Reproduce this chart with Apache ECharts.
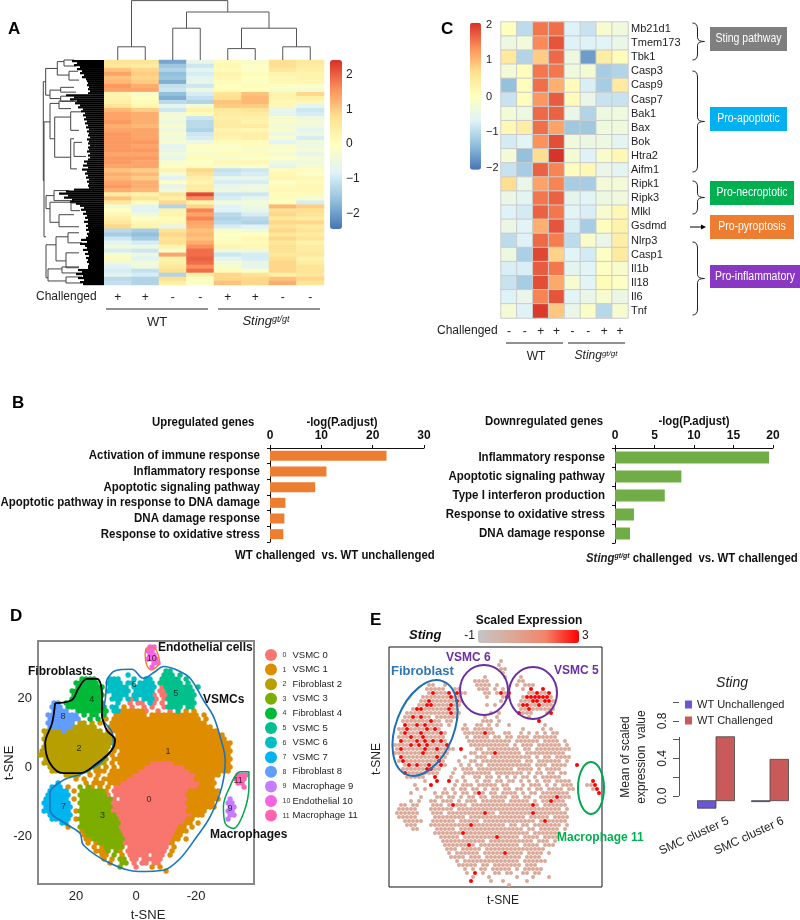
<!DOCTYPE html>
<html><head><meta charset="utf-8">
<style>html,body{margin:0;padding:0;background:#fff}#c{width:800px;height:920px}</style>
<script src="https://cdn.jsdelivr.net/npm/echarts@6/dist/echarts.min.js"></script>
</head><body><div id="c"></div>
<script>
// ---------- DATA ----------
const aSigns=['+','+','-','-','+','+','-','-'];
const cSigns=['-','-','+','+','-','-','+','+'];
const heatA=[
[.7,.7,-1.9,-.6,.1,-.2,.8,.6],[.6,.5,-1.5,-1,.2,-.1,.8,.5],[1.1,.9,-1.3,-.7,.1,-.1,.6,.4],[1.4,1,-1.6,-.9,.3,.1,.3,.3],
[1.1,.9,-1.5,-.7,.2,0,.2,.3],[1.2,1,-1.8,-.6,.1,-.1,.2,.2],[1.5,1.3,-1.1,-1,0,.1,0,-.1],[1.4,1.4,-1,-.5,.1,0,-.2,-.3],
[.2,-.2,-1.6,-.9,.7,1.1,.3,.9],[.3,0,-1.8,-1.1,.8,1.2,.3,.4],[.4,.1,-1.2,-1.3,1.1,1.2,.2,.2],[.7,.2,-.7,-.3,1,1,.2,-.7],
[1.2,1,-1,.3,.6,.7,-.6,-1],[1.4,1.3,-.4,.1,.5,.5,-.7,-.9],[1.4,1.3,-.3,-1,.4,.4,-.2,-.5],[1.5,1.3,-.5,-1.2,.5,.3,-.2,-.3],
[1.3,1.2,-.2,-1.2,.5,.5,-.3,-.4],[1.4,1.4,-.5,-1.3,.3,.2,-.2,-.7],[1.5,1.4,-.2,-1,.4,.4,-.5,-.5],[1.5,1.4,-.4,-.9,.3,.4,-.2,-.9],
[1.5,1.5,-.2,-.5,.1,.1,-.8,-.4],[1.5,1.4,-.7,-.1,-.1,.1,-.2,-.5],[1.5,1.5,-.6,-.1,-.1,-.2,-.1,-.3],[1.4,1.4,-.4,-.2,.1,.1,-.3,-.6],
[1.5,1.5,-.6,.1,-.2,-.1,-.1,-.3],[1.5,1.4,-.2,-.1,.2,.2,-.4,-.4],[1.4,1.4,-.1,.1,-.2,-.1,-.7,-.3],[1.1,1,.3,.9,-1.1,-1,.1,.1],
[1.3,1.2,-.3,.7,-1,-.9,.2,-.1],[1.2,1,-.8,.4,-.6,-.6,.3,.2],[1.4,1.3,0,.3,-.9,-.9,-.1,.1],[1.5,1.3,-.7,.5,-.6,-.4,.1,.2],
[1.3,1.2,-.4,.5,-.5,-.5,.2,.2],[.5,.3,.7,2.2,-1,-1,.1,.1],[1.1,.7,.4,1.6,-.9,-.7,.1,-.2],[.6,.1,.9,.3,-.3,-.3,0,-.9],
[-.3,-.7,-1.3,.9,-.8,-.5,1.2,1],[0,-.8,.3,1.7,-.8,-.6,.8,.8],[.2,-.4,.3,1.4,-1.2,-.9,.9,.7],[.4,-.1,.1,1.7,-1.3,-1.2,.6,.5],
[.6,.2,.2,1.4,-1.2,-1.3,.9,.9],[.9,.3,-.6,1.3,-.9,-.8,.7,.5],[-1.2,-1.4,.7,1.1,-.2,-.4,.9,.7],[-1.4,-1.6,.9,1.2,0,0,.6,.5],
[-1,-1.4,.7,1.1,-.1,.2,.9,.7],[-.7,-.9,.8,1.3,.1,.1,.6,.3],[-.4,-.5,.3,1.6,.3,.2,.8,.5],[-.9,-1,-.2,1.9,-.5,-.4,.7,.5],
[-.2,-.5,1.4,1.9,-1,-.9,.6,.6],[.1,-.8,.3,2,-.7,-.9,.8,.3],[-.5,-.3,.4,1.9,-.3,-.6,.9,.5],[-.8,-.5,.6,1.6,-.2,-.7,.9,.7],
[-.9,-1.1,.8,1.9,.1,-.1,.9,.7],[-.7,-.9,-1.3,.4,.9,.7,.4,.6],[-1.2,-1.3,.8,0,.9,.9,1.1,.9],[-1.1,-1.3,.4,-.1,1.1,.9,1.3,.7]];
// column dendrogram: xLeft,hLeft,xRight,hRight,h (column units, relative height)
const colTree=[[.5,0,1.5,0,.22],[2.5,0,3.5,0,.53],[4.5,0,5.5,0,.19],[6.5,0,7.5,0,.22],[5,.19,7,.22,.53],[3,.53,6,.53,.8],[1,.22,4.5,.8,.99]];
// row dendrogram: hV,yTop,hTop,yBot,hBot
const rowTree=[[60.7,5.4,58.3,30,60],[58.3,2.1,46.7,8.75,54],[46.7,.4,40,3.75,35],[40,0,30,1.5,28],[35,2.8,26,5,25],[54,7.5,43.3,9.6,43.3],[43.3,6.8,30,8,28],[43.3,9,30,10.3,26],
[60,15.4,54,44,58],[54,10.8,45,19.6,49.3],[45,10.2,30,12.1,33],[49.3,14.2,33.3,24.2,33.3],[33.3,12.9,23,17.5,25],[33.3,19.6,30,27.1,27],[30,20.5,22,24,18],
[58,33.75,50,37,54],[50,32.5,35,35,30],[54,35.4,33,40.4,45],[33,35.6,25,37.5,24],[45,38.5,30,41.5,25],
[58,46,48,54.2,56],[48,44,36,50,38],[36,43,25,45.5,22],[38,48,25,51.7,25],[56,52,42,55,38],[42,51.5,25,53,22],[38,54,22,55.5,22]];
const rowFringe=[32,27,30,24,27,22,24,20,22,18,17,16,17,15,16,14,16,38,30,34,27,29,24,26,21,23,19,21,18,20,17,19,16,18,15,17,15,16,14,17,15,16,14,16,15,17,14,16,14,16,20,17,21,16,22,17,19,16,18,15,17,15,16,15,30,38,45,36,40,32,34,28,24,20,23,18,21,17,19,16,20,16,18,16,18,15,17,16,18,23,17,24,19,17,21,16,19,15,18,16,17,15,16,16,26,22,28,21,26,20,24,21];
const genes=['Mb21d1','Tmem173','Tbk1','Casp3','Casp9','Casp7','Bak1','Bax','Bok','Htra2','Aifm1','Ripk1','Ripk3','Mlkl','Gsdmd','Nlrp3','Casp1','Il1b','Il18','Il6','Tnf'];
const heatC=[
[0,-1,1.55,1.6,-.7,-.9,-.2,-.35],[-.4,-.3,1.4,1.8,-.7,-.7,-.65,-.5],[.5,-1.1,.85,1.65,-.4,-1.7,.4,.1],[-.3,.05,1.55,1.55,-.35,-.25,-1.2,-1.1],
[-1.35,.05,1.6,1.1,.1,-.75,-1.2,.45],[-.9,.05,1.3,1.75,.1,-.5,-.9,-.9],[-.3,-.4,1.65,1.7,-.5,-1.1,-.4,-.35],[.15,.4,1.6,1.2,-1.25,-1.25,-.35,-.35],
[-.8,-.65,1.35,1.85,-.35,-.45,-.4,-.6],[-.3,-1.35,.7,2.05,-.25,-.7,-.15,.15],[-.9,-1.2,1.7,1.45,.05,.15,-.5,-.6],[.7,-.5,1.2,1.45,-1.2,-1.2,-.3,-.3],
[-.45,-.6,1.55,1.7,-.55,-.65,-.4,-.35],[-.7,-.8,1.7,1.55,-.65,-.75,-.2,.15],[-.45,-.65,1.1,1.8,-.75,-1.2,.05,.3],[-1,-.7,1.65,1.5,-1,-.15,-.5,.35],
[-.4,-1.15,1.9,.8,-.65,-.8,-.05,.45],[-.75,-.75,1.75,1.55,-.6,-.65,-.05,-.15],[-.9,-1.2,1.85,1.15,-.2,-.65,.1,-.05],[-.7,-.5,1.45,1.8,-.65,-.5,-.2,-.45],[-.25,-.7,2,.9,-.5,-.1,-1.05,-.2]];
const upNames=['Activation of immune response','Inflammatory response','Apoptotic signaling pathway','Apoptotic pathway in response to DNA damage','DNA damage response','Response to oxidative stress'];
const upVals=[22.7,11,8.8,3,2.8,2.6];
const downNames=['Inflammatory response','Apoptotic signaling pathway','Type I interferon production','Response to oxidative stress','DNA damage response'];
const downVals=[19.5,8.4,6.3,2.4,1.9];
const clusterNames=['VSMC 0','VSMC 1','Fibroblast 2','VSMC 3','Fibroblast 4','VSMC 5','VSMC 6','VSMC 7','Fibroblast 8','Macrophage 9','Endothelial 10','Macrophage 11'];
const clusterColors=['#F8766D','#DE8C00','#B79F00','#7CAE00','#00BA38','#00C08B','#00BFC4','#00B4F0','#619CFF','#C77CFF','#F564E3','#FF64B0'];
// cluster map: one row per 1.16 t-SNE y units, one char per 1.33 t-SNE x units
const clusterMap=[
"",
".......... .......... .......aa",
".......... .......... .......aa",
".......... .......... .......aa",
".......... .......... .......aaa",
".......... .......... ........aa",
".......... .......... ........a.",
".......... .......... .......... .55",
".......... .......... ..6....... .555.5",
".......... 4444...666 ...6..66.. 55555.5",
".........4 44444..666 6.66.6666. 555555.5",
".........4 444444.666 66.666666. 05555555.5",
"........44 444444.666 666.66666. 005555555",
"........44 444444..66 66.666660. 005555555",
"........44 444444..66 6.606.6660 .05555555.",
"...88.4444 444444...6 ..0.00.60. 0.5555555",
"...888.444 4444444.66 .1.0..0.0. .05555.55",
"...8888..4 4444444.66 1111110..0 ..0.5.1.1.",
"..88888888 .4.44.4..1 1111111.11 1111111111 .1",
"..88888888 ..4.4.1.11 1111111111 1111111111 .1.",
"..8888888. 22.2.1..11 1111111111 1111111111 11",
"..88888822 2222...111 1111111111 1111111111 111.",
".222228222 222222.111 1111111111 1111111111 11111",
".222222222 22222222.1 1111111111 1111111111 111111",
".222222222 2222222221 1111111111 1111111111 1111111",
".222222222 22222222.1 1111111111 1111111111 11111111",
".222222222 22222222.1 1111111111 1111111111 11111111",
"2222222222 2222222.1. 1111111111 1111111111 11111111",
"2222222222 2222222.1. 1111111111 1111111111 11111111",
".222222222 2222222.11 1111111111 1111111111 11111111",
".222222222 2222222.1. 1111111100 0000111111 11111111",
"..22222222 22222.1.1. 1111110000 0000001111 11111111",
"...2222222 222.111.11 1111100000 0000000011 11111111",
"......2222 ..1.1..111 1110000000 0000000001 11111....b bb",
".........1 .1..1.1111 1100000000 0000000001 1111.....b bb",
"....7..... .1.111.111 0000000000 0000000000 1111.....b b",
"...777.1.. 3.31.1.1.0 0000000000 0000000000 1111...... .b",
"..77777.1. 3333331.00 0000000000 0000000111 11111",
"..777777.. 33333330.0 0000000000 0000000111 11111",
".777777.1. 333333330. 0000000000 0000000111 11111..9..",
".7777777.. 3333333300 0000000000 0000000111 1111...99.",
".7777777.. 3333333300 0000000000 0000000111 1111...99.",
".7777777.1 3333333300 0000000000 0000000111 11.....99.",
"..777777.. 3333333330 0000000000 0000000011 1......99.",
"...77777.1 3333333333 0000000000 000000011. .......9..",
".....77... 3333333333 0000000000 00000011.1",
".......1.. 3333333333 0000000000 0000011.1",
".......... 1333333333 0000000000 0000111.",
".......... .133333333 3000000000 000011.",
".......... .113333333 3000000000 00011.1",
".......... ..1.133333 3000000000 0001.",
".......... ...1.13333 3.00000000 00.1",
".......... ....1113.3 1.00000000 00.1",
".......... .....11.3. 1.00000.00 0.1",
".......... ......1.1. 33.00.0000 0.",
".......... .......1.. 33.0.00.00",
".......... .......... 3...0...1. 1",
".......... .......... .......... .1"];
const mapX0=32,mapDX=1.333,mapY0=35.94,mapDY=1.159;
const clusterLabels=[[-4.3,-9.4,'0'],[-10.6,4.5,'1'],[19,5.4,'2'],[11.2,-14.2,'3'],[14.8,19.6,'4'],[-13.2,21.4,'5'],[.6,23.8,'6'],[24.2,-11.5,'7'],[24.4,14.6,'8'],[-31.3,-12,'9'],[-5.2,31.4,'10'],[-34,-3.8,'11']];
const outlineVSMC=[[9.8,25.2],[7,27.9],[1.4,28.3],[-2.4,25.7],[-6.3,27.6],[-9.1,29.1],[-13.6,28.1],[-18,25.7],[-22.4,19.4],[-25.8,14.6],[-28,8.8],[-29.7,2],[-28.6,-5.7],[-24.7,-14.4],[-20.2,-20.2],[-14.7,-26.5],[-9.1,-29.9],[-.8,-30.3],[8.7,-27.9],[17.6,-22.6],[18.7,-19.2],[23.7,-16.3],[28.7,-12.5],[28.7,-7.6],[24.2,-3.8],[17.6,-1.8],[10.9,2],[7.6,6.9],[8.1,10.2],[11.4,14.6],[10.3,19.4],[9.8,25.2]];
const outlineFibro=[[27,18.5],[21.4,19.4],[19.2,22.8],[16.4,25.5],[13,25.5],[11.4,21.3],[11.4,15.5],[9.8,10.7],[7,7.8],[8.1,4.9],[13,1.1],[18.7,-1.8],[24.2,-1.8],[28.7,1.1],[30.3,6.9],[28,12.7],[27,18.5]];
const outlineEndo=[[-3.3,34.4],[-5.6,34.7],[-7.8,30.5],[-5.2,28.1],[-3.6,29.5],[-3,32.5],[-3.3,34.4]];
const outlineMacro=[[-31.3,-5.7],[-34.7,-1.4],[-37.6,-1.4],[-37.6,-5.7],[-35.8,-13.4],[-32.4,-17.8],[-29.7,-16.3],[-29.1,-11.5],[-31.3,-5.7]];
// expression map: o = background expression, x = high expression
const exprMap=[
"","","",
".......... .......... .......o",
".......... .......... .......o",
".......... .......... .......oo",
".......... .......... ........o.",
".......... .......... ...o....o. ..o.",
".......... .......... .oooo..... ..oo",
".........o o..o...... .oooo.o... .o.ooo",
".........o oooo..oo.. ..ooo.o.o. ...o.x..x.",
".........o xooox.xoo. ...oo.oxox ....ooxoox..",
"........oo oooooxoo.. ....o...ox ...oxxxxxxo",
".......oox ooooooxo.. .......o.. ..oooxxoxxo",
".......oox xooooxoo.. ....o.o... ..oxxooxooo",
".....oxxoo ooooxoo... .......... ..ooxoooooo",
"....oooooo oooooxoo.. .....o.o.. ..xooo...ox",
"...ooxoxoo .oooooo... ...o..o... ....o...",
"...ooooooo xoo.oo.... ...ooo.o.. .......x.",
"...xooxoxo ooo.o...o. .oo.o.o..o ........o..",
"..ooxoooox oxo.....oo .ooooo.... ...o....o.o",
"..oxoooxoo ooxo....oo oooxoo..oo ..o.o.o.o. oo",
"..oooxooxo oooo.....o .oooo.oo.o o.ooo.oooo oo",
"..xoooxoxo xoxo.....o oooooooooo .oooooo.oo oo.o",
".ooooxoxox oooox..... oooooooooo .o.ooo.ooo ooo.o",
".oxoooooxo oxoooo.x.. .oo.oooooo oo.oo.oooo ooooo",
".oooooooxo ooooo..... oo.oooxooo ooo.oooooo oooo.",
"..xooooooo oxoo....o. .ooo.ooooo ooooo.o.oo .oooo.",
"..oxoooooo ooxo...o.. oo.ooooooo ooo.oo.ooo ooo.o.",
"...oxoxoox ooxo...o.o .oo.oooooo ooooo.ooo. oooo..x",
"...oooooox xoo...o.oo o.oooooooo o.oooo.o.o ooo.",
"...xoooooo oo...o..oo ooooo.oooo ooo.o.oo.o o.oo",
"....ooooo. .x...o..o. .oo.oo.o.o .o.oo.o.oo ooo..",
"........o. .x..x.o.o. .o.oo.oo.o o.o.o.o.oo .oooo..... x",
"......o... x.....o.oo o.ooooo.oo ...o.ooo.o .o.ooo...o ox",
"......o.o. ...o.o.oo. oo.o.oo.oo .oo.o.oo.o ooo.oo.... ox",
".....o.... .o.oo.o.oo .oxo.oo.oo oo.o.oo.oo ooooo..... ..x",
".......o.. .oo.oo.o.o o.oo.oooo. oo.oo..ooo oxooo",
".....o.o.. oo.ooo.o.o oo.oooooo. ooooo.o.oo xooo",
"..oo.oo... ooo.oxooo. oooooooooo oooooxo.oo oooo",
"..ooooo... oooooo.ooo oooooooooo oooooooooo ooo.o",
".oooooo... ooo.oooooo oooxoo.ooo oooooxoooo oooo",
"..ooooo... .oooooooo.o ooooooooo oooo.ooooo .oooo",
"...ooooo.. oooooo.ooo oo.ooooooo oooooo.oxo oooo",
"....ooo... oooooooooo xoooooooo. oo.oo.oooo ooo.o",
".....oo... .ooooo.ooo oooooooooo ooo.oo.ooo oo.o",
".......... .oooooooxo oooooooooo ooooo.oooo ooo",
".......... ..ooooo.oo ooooooxooo oo.oooo.oo oo",
".......... ...ooooooo oooo.ooooo oooooo.ooo .o",
".......... ...oooooox o.oooooooo oo.oooo.oo o",
".......... ....ooo.oo ooo.oooooo ooooooooo.",
".......... ....o.oooo oo.oooooxo ooo.oooo.o",
".......... .....oooo. ooo.oooooo ooo.oooo..",
".......... ......o.oo oooooooooo oo.oooooo.",
".......... .......ooo oo.oo.oooo ooo.ooo...",
".......... ........o. o.oo.ooooo .o.ooooo..",
".......... .........o .x.o..oo.o o..oo.oo..",
".......... .......... o...o..... .o...o...o",
".......... .......... x....o..o. ....o.",
".......... .......... ......... o"];
const exprLow=.33,exprHigh=3;
const barCats=['SMC cluster 5','SMC cluster 6'];
const unchallenged=[-.13,-.06];
const challenged=[.63,.39];
const barBase=-.05;

// ---------- HELPERS ----------
const SANS='"Liberation Sans",Arial,sans-serif';
const RB=['#4575B4','#91BFDB','#E0F3F8','#FFFFBF','#FEE090','#FC8D59','#D73027'];
const G=[];
function T(x,y,text,o={}){G.push({type:'text',x,y,rotation:o.rot||0,scaleX:o.sx||1,z:50,silent:true,style:{text,fontSize:o.size||12,fontFamily:SANS,fontWeight:o.w||'normal',fontStyle:o.st||'normal',fill:o.c||'#222',align:o.a||'left',verticalAlign:'middle',rich:o.rich}})}
function L(x1,y1,x2,y2,c='#222',w=1){G.push({type:'line',z:50,silent:true,shape:{x1,y1,x2,y2},style:{stroke:c,lineWidth:w}})}
function B(x,y,w,h,c,label){G.push({type:'rect',z:50,silent:true,shape:{x,y,width:w,height:h},style:{fill:c}});T(x+w/2,y+h/2,label,{a:'center',c:'#fff',size:12.5,sx:.84})}
function Q(x1,y1,cx,cy,x2,y2){G.push({type:'bezierCurve',z:50,silent:true,shape:{x1,y1,x2,y2,cpx1:cx,cpy1:cy},style:{fill:'none',stroke:'#222',lineWidth:1}})}
function Brace(x,y1,y2){const m=(y1+y2)/2;Q(x-5,y1,x,y1,x,y1+6);L(x,y1+6,x,m-4);Q(x,m-4,x,m,x+7,m);Q(x+7,m,x,m,x,m+4);L(x,m+4,x,y2-6);Q(x,y2-6,x,y2,x-5,y2);}
function E(x,y,rx,ry,rot,c){G.push({type:'ellipse',x,y,rotation:rot,z:50,silent:true,shape:{cx:0,cy:0,rx,ry},style:{fill:'none',stroke:c,lineWidth:2}})}
const stingRich=(s,sup,w)=>({a:{fontStyle:'italic',fontSize:s,fontWeight:w,fontFamily:SANS,fill:'#222',verticalAlign:'bottom'},b:{fontStyle:'italic',fontSize:sup,fontWeight:w,fontFamily:SANS,fill:'#222',verticalAlign:'top'},c:{fontSize:s,fontWeight:w,fontFamily:SANS,fill:'#111',verticalAlign:'bottom'}});

// panel letters
[['A',8,29],['C',441,29],['B',12,403],['D',10,616],['E',370,620]].forEach(p=>T(p[1],p[2],p[0],{size:17,w:'bold',c:'#000'}));
// panel A annotation
T(36,297,'Challenged');L(106,309,208,309);L(218,309,320,309);T(157,322,'WT',{a:'center',size:13});
T(266,321,'{a|Sting}{b|gt/gt}',{a:'center',rich:stingRich(13,9)});
[[75,'2'],[110,'1'],[144,'0'],[179,'\u22121'],[214,'\u22122']].forEach(p=>T(346,p[0],p[1]));
// panel C annotation
T(437,331,'Challenged');L(506,343,563,343);L(568,343,625,343);T(536,357,'WT',{a:'center'});
T(596,356,'{a|Sting}{b|gt/gt}',{a:'center',rich:stingRich(12,8)});
[[25,'2'],[60,'1'],[97,'0'],[132,'\u22121'],[168,'\u22122']].forEach(p=>T(486,p[0],p[1],{size:11}));
B(710,27,77,24,'#7F7F7F','Sting pathway');B(710,107,77,24,'#00B0F0','Pro-apoptotic');B(710,181,84,24,'#00B050','Pro-necroptotic');
B(710,215,84,24,'#ED7D31','Pro-pyroptosis');B(710,265,90,23,'#8A38C4','Pro-inflammatory');
Brace(697.5,23,60);Brace(697.5,71,172);Brace(697.5,181,214);Brace(697.5,242,315);
L(690,227,702,227,'#000',1);G.push({type:'polygon',z:50,silent:true,shape:{points:[[701,224.5],[706,227],[701,229.5]]},style:{fill:'#000'}});
// panel B annotation
const nb={w:'bold',size:13,sx:.875,c:'#111'};
T(152,422,'Upregulated genes',nb);T(342,422,'-log(P.adjust)',{...nb,a:'center'});T(485,421,'Downregulated genes',nb);T(694,421,'-log(P.adjust)',{...nb,a:'center'});
T(235,555,'WT challenged  vs. WT unchallenged',nb);
T(586,558,'{a|Sting}{b|gt/gt}{c| challenged  vs. WT challenged}',{sx:.875,rich:stingRich(13,8,'bold')});
// panel D annotation
const bd={w:'bold',size:12,c:'#111'};
T(28,672,'Fibroblasts',bd);T(158,648,'Endothelial cells',bd);T(203,700,'VSMCs',bd);T(210,835,'Macrophages',bd);
T(148,915,'t-SNE',{a:'center',size:13});T(9,763,'t-SNE',{a:'center',size:13,rot:Math.PI/2});
// panel E annotation
T(529,621,'Scaled Expression',{a:'center',w:'bold',size:12,c:'#111'});T(409,635,'Sting',{w:'bold',st:'italic',size:13,c:'#111'});
T(475,636,'-1',{a:'right'});T(582,636,'3');
T(391,671,'Fibroblast',{w:'bold',size:13,c:'#2E75B6'});T(446,658,'VSMC 6',{w:'bold',size:12,c:'#6A2FA0'});T(554,671,'VSMC 5',{w:'bold',size:12,c:'#6A2FA0'});T(557,838,'Macrophage 11',{w:'bold',size:12,c:'#00B050'});
E(425,728,29,50,-.37,'#1F6FB5');E(484,690,24,25,0,'#6A2FA0');E(533,693,24,26,0,'#6A2FA0');E(591,788,13,26,0,'#00A651');
T(503,901,'t-SNE',{a:'center'});T(377,759,'t-SNE',{a:'center',rot:Math.PI/2});
T(732,683,'Sting',{a:'center',st:'italic',size:14});
T(626,757,'Mean of scaled',{a:'center',rot:Math.PI/2});T(642,757,'expression  value',{a:'center',rot:Math.PI/2});
T(694,836,barCats[0],{a:'center',rot:.43});T(749,836,barCats[1],{a:'center',rot:.43});
L(679.5,737,679.5,796,'#555',1);

// ---------- CHART ----------
const grids=[
{left:104,top:60,width:220,height:225},
{left:104,top:0,width:220,height:60},
{left:43,top:60,width:61,height:225},
{left:501,top:22,width:127,height:296},
{left:270,top:448,width:154,height:94},
{left:615,top:448,width:158,height:95},
{left:38,top:641,width:216,height:243,show:true,borderColor:'#888',borderWidth:2,backgroundColor:'#fff'},
{left:389,top:647,width:213,height:240,show:true,borderColor:'#111',borderWidth:1,backgroundColor:'#fff'},
{left:689,top:702,width:108,height:94}].map(g=>({...g,outerBoundsMode:'none',containLabel:false}));
const hid=(gridIndex,extra)=>Object.assign({type:'value',gridIndex,show:false},extra);
const signAxis=(gridIndex,data,margin)=>({type:'category',gridIndex,data,axisLine:{show:false},axisTick:{show:false},axisLabel:{interval:0,margin,fontSize:12,color:'#222',fontFamily:SANS}});
const bw={fontFamily:SANS,fontWeight:'bold',color:'#111'};
const xAxis=[
signAxis(0,aSigns,7),
hid(1,{min:0,max:8}),
hid(2,{min:0,max:61,inverse:true}),
signAxis(3,cSigns,8),
{type:'value',gridIndex:4,position:'top',min:0,max:30,interval:10,axisLine:{show:true,lineStyle:{color:'#111'}},axisTick:{show:true,length:3,inside:false,lineStyle:{color:'#111'}},splitLine:{show:false},axisLabel:{...bw,fontSize:12,margin:6}},
{type:'value',gridIndex:5,position:'top',min:0,max:20,interval:5,axisLine:{show:true,lineStyle:{color:'#111'}},axisTick:{show:true,length:3,lineStyle:{color:'#111'}},splitLine:{show:false},axisLabel:{...bw,fontSize:12,margin:6}},
{type:'value',gridIndex:6,inverse:true,min:-39.3,max:32.7,axisLine:{show:false},splitLine:{show:false},axisTick:{show:true,length:3,customValues:[-20,0,20],lineStyle:{color:'#666'}},axisLabel:{customValues:[-20,0,20],fontSize:13,color:'#222',margin:6,fontFamily:SANS,formatter:v=>String(v)}},
hid(7,{min:-.5,max:52.75}),
{type:'category',gridIndex:8,data:barCats,axisLine:{show:false},axisTick:{show:false},axisLabel:{show:false}}];
const yAxis=[
{type:'category',gridIndex:0,show:false,inverse:true,data:heatA.map((_,i)=>i)},
hid(1,{min:0,max:1}),
hid(2,{min:0,max:56,inverse:true}),
{type:'category',gridIndex:3,inverse:true,position:'right',data:genes,axisLine:{show:false},axisTick:{show:false},axisLabel:{interval:0,fontSize:11,margin:3,color:'#222',fontFamily:SANS}},
{type:'category',gridIndex:4,inverse:true,data:upNames,axisLine:{show:true,lineStyle:{color:'#111'}},axisTick:{show:true,length:3,lineStyle:{color:'#111'}},axisLabel:{show:false}},
{type:'category',gridIndex:5,inverse:true,data:downNames,axisLine:{show:true,lineStyle:{color:'#111'}},axisTick:{show:true,length:3,lineStyle:{color:'#111'}},axisLabel:{show:false}},
{type:'value',gridIndex:6,min:-33.9,max:36.5,axisLine:{show:false},splitLine:{show:false},axisTick:{show:true,length:3,customValues:[-20,0,20],lineStyle:{color:'#666'}},axisLabel:{customValues:[-20,0,20],fontSize:13,color:'#222',margin:6,fontFamily:SANS,formatter:v=>String(v)}},
hid(7,{min:-.5,max:59.5,inverse:true}),
{type:'value',gridIndex:8,min:0,max:1,interval:.2,offset:10,axisLine:{show:false},splitLine:{show:false},axisTick:{show:true,length:6,lineStyle:{color:'#555'}},axisLabel:{rotate:90,fontSize:12,margin:10,color:'#222',fontFamily:SANS,formatter:v=>{const k=Math.round(v*10);return k===0||k===4||k===8?v.toFixed(1):''}}}];

const flat=(rows)=>{const d=[];rows.forEach((r,i)=>r.forEach((v,j)=>d.push([j,i,v])));return d};
const series=[];
series.push({type:'heatmap',xAxisIndex:0,yAxisIndex:0,data:flat(heatA),itemStyle:{borderWidth:0},progressive:0,silent:true});       //0
series.push({type:'heatmap',xAxisIndex:3,yAxisIndex:3,data:flat(heatC),itemStyle:{borderColor:'#ccc',borderWidth:1},progressive:0,silent:true}); //1
series.push({type:'custom',xAxisIndex:1,yAxisIndex:1,data:colTree,silent:true,renderItem:(p,api)=>{
  const a=api.coord([api.value(0),api.value(1)]),b=api.coord([api.value(0),api.value(4)]),c=api.coord([api.value(2),api.value(4)]),d=api.coord([api.value(2),api.value(3)]);
  return {type:'polyline',shape:{points:[a,b,c,d]},style:{stroke:'#555',fill:null,lineWidth:1}}}});
series.push({type:'custom',xAxisIndex:2,yAxisIndex:2,data:rowTree,silent:true,renderItem:(p,api)=>{
  const a=api.coord([api.value(2),api.value(1)]),b=api.coord([api.value(0),api.value(1)]),c=api.coord([api.value(0),api.value(3)]),d=api.coord([api.value(4),api.value(3)]);
  return {type:'polyline',shape:{points:[a,b,c,d]},style:{stroke:'#444',fill:null,lineWidth:1}}}});
series.push({type:'custom',xAxisIndex:2,yAxisIndex:2,data:rowFringe.map((v,i)=>[v,i/2]),silent:true,renderItem:(p,api)=>{
  const a=api.coord([api.value(0),api.value(1)]),b=api.coord([0,api.value(1)+.55]);
  return {type:'rect',shape:{x:a[0],y:a[1],width:b[0]-a[0],height:b[1]-a[1]},style:{fill:'#000'}}}});
series.push({type:'bar',xAxisIndex:4,yAxisIndex:4,data:upVals,barWidth:10,itemStyle:{color:'#ED7D31'},silent:true});
series.push({type:'bar',xAxisIndex:5,yAxisIndex:5,data:downVals,barWidth:12,itemStyle:{color:'#70AD47'},silent:true});
// category names of panel B, narrowed to match the condensed face of the reference
const catText=(names)=>(p,api)=>{const c=api.coord([0,api.value(0)]);return {type:'text',x:c[0]-10,y:c[1],scaleX:.885,style:{text:names[api.value(0)],align:'right',verticalAlign:'middle',fontSize:13,fontWeight:'bold',fontFamily:SANS,fill:'#111'}}};
series.push({type:'custom',xAxisIndex:4,yAxisIndex:4,data:upNames.map((_,i)=>[i]),encode:{y:0},silent:true,clip:false,renderItem:catText(upNames)});
series.push({type:'custom',xAxisIndex:5,yAxisIndex:5,data:downNames.map((_,i)=>[i]),encode:{y:0},silent:true,clip:false,renderItem:catText(downNames)});
// D clusters
const clusterPts=clusterNames.map(()=>[]);
clusterMap.forEach((row,r)=>{row.replace(/ /g,'').split('').forEach((ch,c)=>{
  if(ch==='.')return;const k=parseInt(ch,16)>=10?{a:10,b:11}[ch]:+ch;
  clusterPts[k].push([mapX0-mapDX*(c+(r%2)*.5),mapY0-mapDY*r]);})});
clusterNames.forEach((n,k)=>series.push({type:'scatter',name:n,xAxisIndex:6,yAxisIndex:6,data:clusterPts[k],symbol:'circle',symbolSize:5.4,itemStyle:{color:clusterColors[k],opacity:1},silent:true}));
series.push({type:'scatter',xAxisIndex:6,yAxisIndex:6,data:clusterLabels,symbolSize:0,silent:true,z:6,label:{show:true,position:'inside',formatter:p=>p.value[2],fontSize:9,color:'#111',fontFamily:SANS}});
[[outlineVSMC,'#1B75BC',1.6],[outlineFibro,'#000',1.8],[outlineEndo,'#F08030',1.4],[outlineMacro,'#00A651',1.5]].forEach(o=>series.push({type:'line',xAxisIndex:6,yAxisIndex:6,data:o[0],smooth:.35,showSymbol:false,z:7,silent:true,lineStyle:{color:o[1],width:o[2]}}));
// E points
const exprPts=[],exprHi=[];
exprMap.forEach((row,r)=>row.replace(/ /g,'').split('').forEach((ch,c)=>{const px=c+(r%2)*.5;if(ch==='o')exprPts.push([px,r,exprLow]);if(ch==='x')exprHi.push([px,r,exprHigh]);}));
const eIdx=series.length;
series.push({type:'scatter',xAxisIndex:7,yAxisIndex:7,data:exprPts.concat(exprHi),symbol:'circle',symbolSize:4,itemStyle:{opacity:1},silent:true});
// E bars
const barItem=(off)=>(p,api)=>{const a=api.coord([api.value(0),barBase]),b=api.coord([api.value(0),api.value(1)]);const w=18.5;const x=a[0]+off*w;
  return {type:'rect',shape:{x,y:Math.min(a[1],b[1]),width:w,height:Math.abs(a[1]-b[1])},style:{fill:api.visual('color'),stroke:'#444',lineWidth:.8}}};
series.push({type:'custom',name:'WT Unchallenged',xAxisIndex:8,yAxisIndex:8,data:unchallenged.map((v,i)=>[i,v]),itemStyle:{color:'#6A56D6'},silent:true,renderItem:barItem(-1)});
series.push({type:'custom',name:'WT Challenged',xAxisIndex:8,yAxisIndex:8,data:challenged.map((v,i)=>[i,v]),itemStyle:{color:'#C85A5A'},silent:true,renderItem:barItem(0)});

const vmBase={type:'continuous',calculable:false,hoverLink:false,show:true,orient:'vertical',precision:1};
const option={animation:false,backgroundColor:'#fff',grid:grids,xAxis,yAxis,series,graphic:{elements:G},
 visualMap:[
  {...vmBase,seriesIndex:0,min:-2.43,max:2.43,left:315,top:45,itemWidth:12,itemHeight:169,inRange:{color:RB}},
  {...vmBase,seriesIndex:1,min:-2.07,max:2.07,left:455,top:7.7,itemWidth:11,itemHeight:147,inRange:{color:RB}},
  {...vmBase,seriesIndex:eIdx,dimension:2,min:-1,max:3,orient:'horizontal',left:463,top:615,itemWidth:13,itemHeight:101,inRange:{color:['#C4C4C4','#DBA999','#F2846A','#FF0000']}}],
 legend:[
  {data:clusterNames,orient:'vertical',left:265,top:649,itemWidth:13,itemHeight:12,itemGap:2.6,icon:'circle',padding:0,selectedMode:false,
   formatter:n=>'{i|'+clusterNames.indexOf(n)+'}{n|'+n+'}',textStyle:{rich:{i:{fontSize:7,width:10,color:'#333',fontFamily:SANS,height:12},n:{fontSize:9.5,color:'#222',fontFamily:SANS,height:12}}}},
  {data:['WT Unchallenged','WT Challenged'],orient:'vertical',left:685,top:699,itemWidth:7,itemHeight:8,itemGap:5,icon:'rect',padding:0,selectedMode:false,textStyle:{fontSize:11,color:'#222',fontFamily:SANS}}]
};
const chart=echarts.init(document.getElementById('c'),null,{renderer:'canvas',width:800,height:920});
chart.setOption(option);
</script></body></html>
